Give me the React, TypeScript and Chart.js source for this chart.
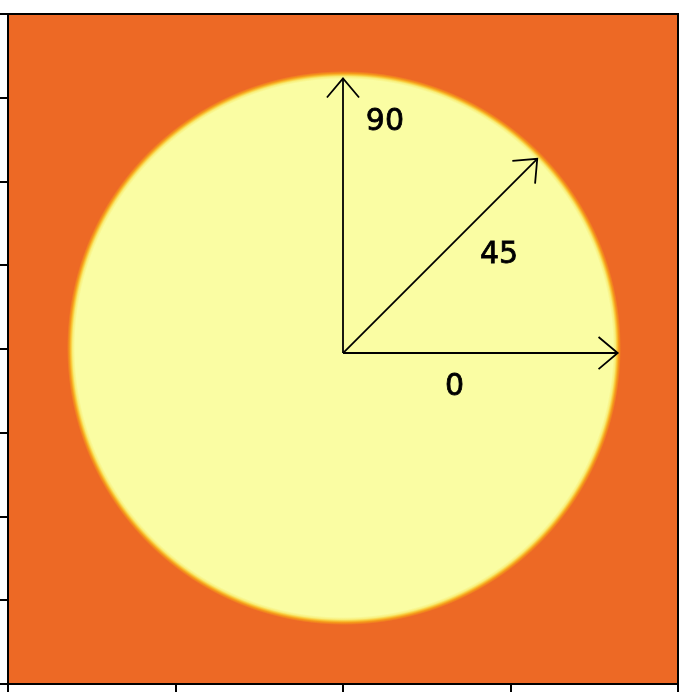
import React, { useEffect, useRef } from "react";
import { Chart, registerables } from "chart.js";

Chart.register(...registerables);

// Axis ticks (labels fall outside the visible figure)
const xTicks = [-1, -0.5, 0, 0.5, 1];
const yTicks = [-1, -0.75, -0.5, -0.25, 0, 0.25, 0.5, 0.75, 1];

// Disc (bright region) in data units
const discCenterX = 0.003;
const discCenterY = 0.003;
const discRadius = 0.815;

// Arrows: origin, angles (degrees), length
const arrowOriginX = 0;
const arrowOriginY = -0.012;
const arrowAngles = [0, 45, 90];
const arrowLength = 0.82;

// Arrow labels
const labelTexts = ["0", "45", "90"];
const labelX = [0.333, 0.466, 0.125];
const labelY = [-0.112, 0.284, 0.681];

const ORANGE = "#ed6925";
const YELLOW = "#fafda3";

export default function App() {
  const ref = useRef<HTMLCanvasElement | null>(null);

  useEffect(() => {
    const canvas = ref.current;
    if (!canvas) return;

    const arrowDatasets = arrowAngles.map((a) => {
      const rad = (a * Math.PI) / 180;
      return {
        type: "line" as const,
        label: String(a),
        data: [
          { x: arrowOriginX, y: arrowOriginY },
          { x: arrowOriginX + arrowLength * Math.cos(rad), y: arrowOriginY + arrowLength * Math.sin(rad) },
        ],
        borderColor: "#000",
        borderWidth: 1.8,
        pointRadius: 0,
        showLine: true,
        fill: false,
      };
    });

    const backgroundPlugin = {
      id: "discBackground",
      beforeDatasetsDraw(chart: any) {
        const { ctx, chartArea, scales } = chart;
        const xs = scales.x;
        const ys = scales.y;
        ctx.save();
        ctx.fillStyle = ORANGE;
        ctx.fillRect(chartArea.left, chartArea.top, chartArea.right - chartArea.left, chartArea.bottom - chartArea.top);
        const cx = xs.getPixelForValue(discCenterX);
        const cy = ys.getPixelForValue(discCenterY);
        const r = Math.abs(xs.getPixelForValue(discCenterX + discRadius) - cx);
        const w = 4;
        const g = ctx.createRadialGradient(cx, cy, r - w, cx, cy, r + w);
        g.addColorStop(0, YELLOW);
        g.addColorStop(0.3, "#f8ee7a");
        g.addColorStop(0.5, "#f9c93a");
        g.addColorStop(0.7, "#f59a1a");
        g.addColorStop(1, ORANGE);
        ctx.fillStyle = g;
        ctx.beginPath();
        ctx.arc(cx, cy, r + w, 0, Math.PI * 2);
        ctx.fill();
        ctx.restore();
      },
      afterDatasetsDraw(chart: any) {
        const { ctx, scales } = chart;
        const xs = scales.x;
        const ys = scales.y;
        ctx.save();
        // arrowheads
        ctx.strokeStyle = "#000";
        ctx.lineWidth = 1.8;
        arrowAngles.forEach((a) => {
          const rad = (a * Math.PI) / 180;
          const tx = xs.getPixelForValue(arrowOriginX + arrowLength * Math.cos(rad));
          const ty = ys.getPixelForValue(arrowOriginY + arrowLength * Math.sin(rad));
          const ox = xs.getPixelForValue(arrowOriginX);
          const oy = ys.getPixelForValue(arrowOriginY);
          const dir = Math.atan2(ty - oy, tx - ox);
          const len = 25;
          const half = (40 * Math.PI) / 180;
          ctx.beginPath();
          ctx.moveTo(tx + len * Math.cos(dir + Math.PI - half), ty + len * Math.sin(dir + Math.PI - half));
          ctx.lineTo(tx, ty);
          ctx.lineTo(tx + len * Math.cos(dir + Math.PI + half), ty + len * Math.sin(dir + Math.PI + half));
          ctx.stroke();
        });
        // labels
        ctx.fillStyle = "#000";
        ctx.strokeStyle = "#000";
        ctx.lineWidth = 0.8;
        ctx.font = "30px 'DejaVu Sans'";
        ctx.textAlign = "center";
        ctx.textBaseline = "middle";
        labelTexts.forEach((t, i) => {
          const px = xs.getPixelForValue(labelX[i]);
          const py = ys.getPixelForValue(labelY[i]) + 1;
          ctx.fillText(t, px, py);
          ctx.strokeText(t, px, py);
        });
        ctx.restore();
      },
      afterDraw(chart: any) {
        const { ctx, chartArea } = chart;
        ctx.save();
        ctx.strokeStyle = "#000";
        ctx.lineWidth = 2;
        ctx.strokeRect(chartArea.left, chartArea.top, chartArea.right - chartArea.left, chartArea.bottom - chartArea.top);
        ctx.restore();
      },
    };

    const chart = new Chart(canvas, {
      type: "scatter",
      data: { datasets: arrowDatasets as any },
      options: {
        animation: false,
        responsive: false,
        maintainAspectRatio: false,
        layout: { padding: { left: 0, top: 14, right: 6, bottom: 8 } },
        plugins: { legend: { display: false }, tooltip: { enabled: false } },
        scales: {
          x: {
            type: "linear",
            min: -1,
            max: 1,
            afterBuildTicks: (s: any) => {
              s.ticks = xTicks.map((v) => ({ value: v }));
            },
            ticks: { display: false },
            grid: { drawOnChartArea: false, drawTicks: true, tickLength: 8, color: "#000", lineWidth: 2 },
            border: { display: true, color: "#000", width: 2 },
          },
          y: {
            type: "linear",
            min: -1,
            max: 1,
            afterBuildTicks: (s: any) => {
              s.ticks = yTicks.map((v) => ({ value: v }));
            },
            ticks: { display: false },
            grid: { drawOnChartArea: false, drawTicks: true, tickLength: 8, color: "#000", lineWidth: 2 },
            border: { display: true, color: "#000", width: 2 },
          },
        },
      },
      plugins: [backgroundPlugin],
    });

    return () => chart.destroy();
  }, []);

  return (
    <div style={{ position: "absolute", left: 0, top: 0, width: 684, height: 700, background: "#fff" }}>
      <canvas ref={ref} width={684} height={700} style={{ display: "block", width: 684, height: 700 }} />
    </div>
  );
}
